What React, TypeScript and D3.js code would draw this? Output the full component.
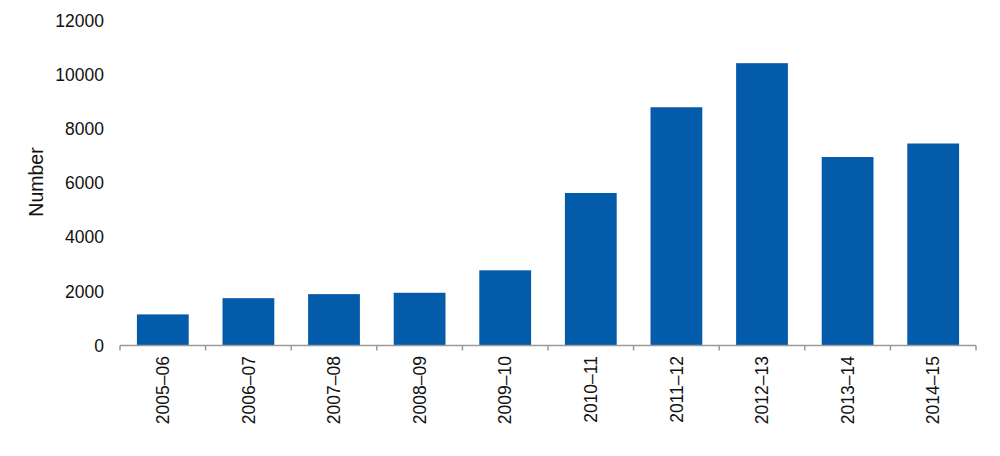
import React from "react";
import * as d3 from "d3";

const categories = ["2005–06", "2006–07", "2007–08", "2008–09", "2009–10", "2010–11", "2011–12", "2012–13", "2013–14", "2014–15"];
const values = [1150, 1750, 1900, 1950, 2780, 5640, 8810, 10440, 6970, 7470];
const yTicks = [0, 2000, 4000, 6000, 8000, 10000, 12000];

const W = 1000;
const H = 456;
const left = 120;
const right = 976;
const top = 21;
const bottom = 345.5;
const font = "'Liberation Sans', Arial, sans-serif";

export default function App() {
  const x = d3.scaleBand<string>().domain(categories).range([left, right]).paddingInner(0.395).paddingOuter(0.1975);
  const y = d3.scaleLinear().domain([0, 12000]).range([bottom, top]);
  const step = x.step();
  const boundaries = d3.range(categories.length + 1).map((i) => left + i * step);
  return (
    <svg width={W} height={H} style={{ position: "absolute", left: 0, top: 0, background: "#fff" }}>
      {categories.map((c, i) => (
        <rect key={c} x={x(c)} y={y(values[i])} width={x.bandwidth()} height={y(0) - y(values[i])} fill="#035BAA" />
      ))}
      <line x1={left} x2={right} y1={y(0)} y2={y(0)} stroke="#9a9a9a" strokeWidth={1.5} />
      {boundaries.map((b, i) => (
        <line key={i} x1={b} x2={b} y1={y(0)} y2={y(0) + 5} stroke="#9a9a9a" strokeWidth={1.5} />
      ))}
      {yTicks.map((t) => (
        <text key={t} x={104} y={y(t)} dy="0.35em" textAnchor="end" fontFamily={font} fontSize={17.5} fill="#111">
          {t}
        </text>
      ))}
      <text transform={`translate(36,${182}) rotate(-90)`} textAnchor="middle" dy="0.35em" fontFamily={font} fontSize={19.5} fill="#111">
        Number
      </text>
      {categories.map((c) => (
        <text
          key={c}
          transform={`translate(${(x(c) as number) + x.bandwidth() / 2},${356}) rotate(-90)`}
          textAnchor="end"
          dy="0.35em"
          fontFamily={font}
          fontSize={17.5}
          fill="#111"
        >
          {c}
        </text>
      ))}
    </svg>
  );
}
